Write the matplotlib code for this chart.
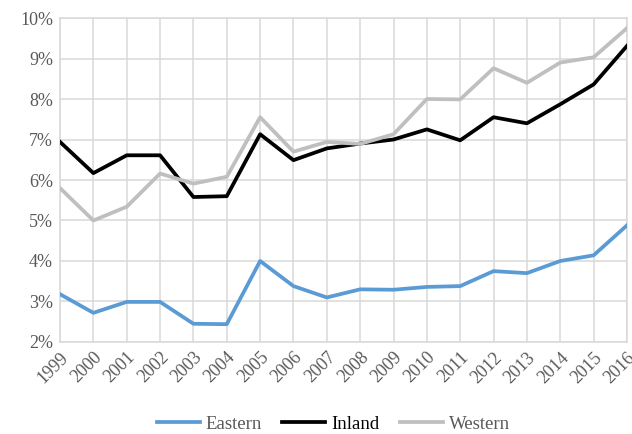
import matplotlib.pyplot as plt
from matplotlib.ticker import FuncFormatter

years = list(range(1999, 2017))
eastern = [3.18, 2.72, 2.99, 2.99, 2.45, 2.44, 4.00, 3.38, 3.10, 3.30,
           3.29, 3.36, 3.38, 3.75, 3.70, 4.00, 4.14, 4.88]
inland = [6.94, 6.17, 6.61, 6.61, 5.58, 5.60, 7.13, 6.49, 6.78, 6.90,
          7.00, 7.25, 6.98, 7.55, 7.40, 7.87, 8.36, 9.31]
western = [5.80, 5.00, 5.34, 6.16, 5.91, 6.08, 7.55, 6.70, 6.94, 6.89,
           7.13, 8.00, 7.99, 8.76, 8.40, 8.90, 9.03, 9.75]

plt.rcParams['font.family'] = ['Liberation Serif', 'DejaVu Serif']

fig = plt.figure(figsize=(6.32, 4.34), dpi=100)
ax = fig.add_axes([0.095, 0.212, 0.897, 0.7465])

ax.plot(years, eastern, color='#5B9BD5', lw=2.7, label='Eastern', zorder=3)
ax.plot(years, inland, color='black', lw=2.7, label='Inland', zorder=3)
ax.plot(years, western, color='#BFBFBF', lw=2.7, label='Western', zorder=3)

ax.set_xlim(1999, 2016)
ax.set_ylim(2, 10)
ax.set_xticks(years)
ax.set_yticks(range(2, 11))
ax.yaxis.set_major_formatter(FuncFormatter(lambda v, p: '%d%%' % v))
ax.grid(True, color='#D9D9D9', lw=1.1)
ax.set_axisbelow(True)
for s in ax.spines.values():
    s.set_color('#D9D9D9')
    s.set_linewidth(1.1)
ax.tick_params(length=0, colors='#595959', labelsize=13, pad=5)
for lab in ax.get_xticklabels():
    lab.set_rotation(45)
    lab.set_ha('right')
    lab.set_rotation_mode('anchor')

leg = fig.legend(loc='center', bbox_to_anchor=(0.527, 1 - 424 / 434), ncol=3,
                 frameon=False, fontsize=13.5, handlelength=2.3, columnspacing=1.1,
                 handletextpad=0.3)
for t in leg.get_texts():
    t.set_color('#595959')
leg.get_texts()[1].set_color('black')

fig.savefig('out.png', dpi=100)
